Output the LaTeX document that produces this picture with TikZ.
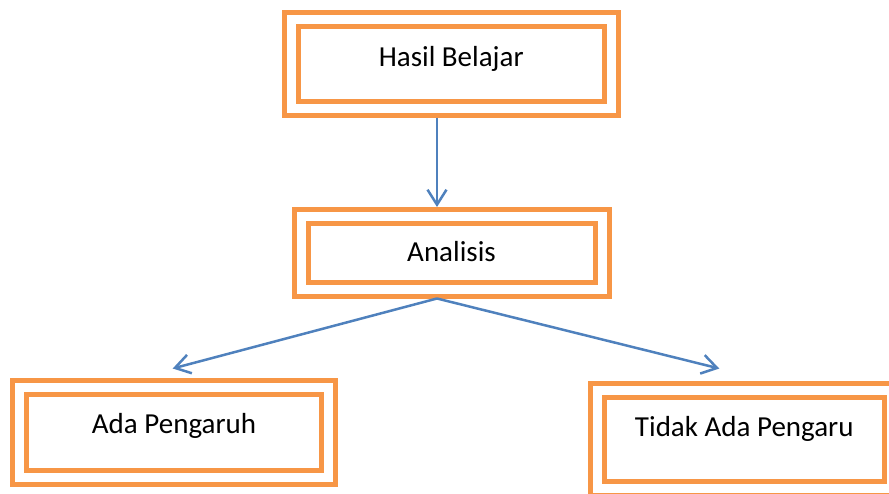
\documentclass[tikz,border=0pt]{standalone}
\usepackage{fontspec}
\setmainfont{Carlito}
\usetikzlibrary{arrows.meta,positioning}
\definecolor{boxorange}{HTML}{F79646}
\definecolor{arrowblue}{HTML}{4F81BD}

\begin{document}
\begin{tikzpicture}[x=1pt,y=-1pt,
    box/.style={draw=boxorange, line width=5pt, double=white, double distance=9pt,
        inner sep=0pt, font=\fontsize{29}{35}\selectfont},
    arr/.style={draw=arrowblue, line width=2.5pt, -{Straight Barb[length=15pt,width=19pt]}}]
\useasboundingbox (0,0) rectangle (889,493);

% Boxes (double orange frame)
\node[box, minimum width=320.5pt, text height=47pt, text depth=42.5pt] (hasil) at (451.25,63.75) {Hasil Belajar};
\node[box, minimum width=301pt, text height=44.5pt, text depth=28.5pt] (analisis) at (451.5,253) {Analisis};
\node[box, minimum width=309pt, text height=46.3pt, text depth=44.2pt] (ada) at (174,432.25) {Ada Pengaruh};
\node[box, minimum width=294.5pt, text height=46pt, text depth=52.5pt] (tidak) at (744.25,439.25) {Tidak Ada Pengaru};

% Arrows
\draw[arr] ([xshift=-14.25pt,yshift=-6.5pt]hasil.south) -- ([xshift=-14.5pt,yshift=7pt]analisis.north);
\draw[arr] ([xshift=-14.5pt,yshift=-6.5pt]analisis.south) -- ([xshift=-1.3pt,yshift=16pt]ada.north);
\draw[arr] ([xshift=-14.5pt,yshift=-6.5pt]analisis.south) -- ([xshift=-25pt,yshift=19pt]tidak.north);
\end{tikzpicture}
\end{document}
